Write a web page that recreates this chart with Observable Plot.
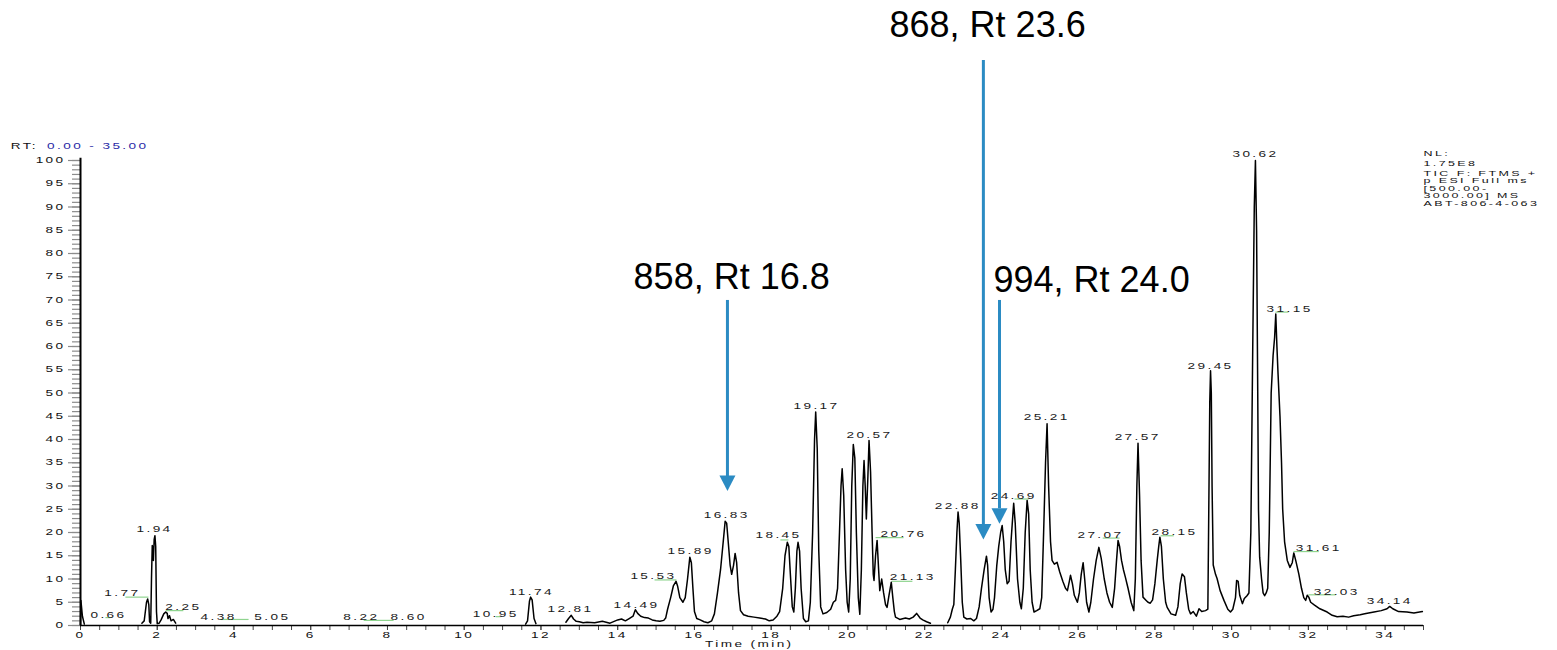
<!DOCTYPE html>
<html>
<head>
<meta charset="utf-8">
<script src="https://cdn.jsdelivr.net/npm/d3@7"></script>
<script src="https://cdn.jsdelivr.net/npm/@observablehq/plot@0.6"></script>
<style>html,body{margin:0;padding:0;background:#fff}</style>
</head>
<body>
<div id="chart"></div>
<script>
// ---- Chromatogram trace: [retention time (min), relative abundance], NaN = gap
const chromatogram = [
  [0,0],[0.01,5.4],[0.05,2.0],[0.1,0.3],[0.5,NaN],
  [1.6,0.5],[1.66,1.0],[1.72,5.0],[1.75,5.7],[1.78,4.5],[1.8,0.8],[1.83,0.5],[1.85,10],[1.87,17.2],[1.89,16.5],[1.9,14],[1.92,18.5],[1.94,19.3],[1.96,17],[1.98,3],[2.0,0.4],[2.05,0.5],[2.1,1.2],[2.17,2.5],[2.22,2.9],[2.26,2.6],[2.28,1.5],[2.32,2.1],[2.36,1.0],[2.42,1.3],[2.48,0.5],[5,NaN],
  [11.6,0.3],[11.65,1.0],[11.7,5.2],[11.73,6.1],[11.77,5.5],[11.82,1.5],[11.87,0.4],[12.2,NaN],
  [12.65,0.7],[12.72,1.5],[12.79,2.2],[12.85,1.4],[12.92,0.9],[13.0,0.8],[13.1,0.6],[13.2,0.7],[13.4,0.6],[13.6,0.9],[13.8,0.5],[14.0,1.2],[14.1,1.4],[14.2,1.0],[14.3,1.5],[14.4,2.0],[14.46,3.4],[14.52,2.6],[14.6,2.0],[14.7,1.7],[14.8,1.6],[14.9,1.2],[15.0,1.0],[15.1,0.9],[15.2,1.1],[15.25,1.6],[15.3,3.5],[15.38,6],[15.45,8.5],[15.52,9.5],[15.56,8.5],[15.62,6],[15.7,5.0],[15.76,6],[15.82,10],[15.88,14.7],[15.92,13.5],[15.96,8],[16.0,3],[16.06,1.5],[16.15,1.2],[16.25,0.8],[16.35,0.6],[16.45,1.0],[16.52,2.5],[16.6,7],[16.68,12],[16.75,18],[16.8,22.4],[16.84,22.0],[16.88,18],[16.93,13],[16.97,11],[17.02,13],[17.06,15.5],[17.1,13.5],[17.15,7],[17.2,3.2],[17.28,2.3],[17.4,2.0],[17.55,1.8],[17.7,1.6],[17.85,1.4],[17.95,1.0],[18.05,1.2],[18.15,2.0],[18.22,3],[18.3,8],[18.36,15],[18.42,17.9],[18.46,17],[18.5,11],[18.55,4],[18.59,2.9],[18.63,8],[18.67,16],[18.7,17.9],[18.74,16],[18.78,8],[18.84,1.5],[18.9,0.8],[18.97,1.0],[19.02,5],[19.08,20],[19.13,40],[19.16,45.9],[19.2,38],[19.24,16],[19.29,4],[19.35,2.5],[19.45,2.8],[19.55,3.5],[19.62,5],[19.68,5.4],[19.73,8],[19.78,20],[19.82,30],[19.85,33.7],[19.89,28],[19.94,12],[19.98,5],[20.02,2.9],[20.06,10],[20.1,30],[20.14,38.9],[20.18,36],[20.22,20],[20.27,6],[20.31,2.4],[20.35,12],[20.39,30],[20.42,35.5],[20.45,30],[20.48,22.9],[20.52,32],[20.55,39.8],[20.59,33],[20.63,20],[20.66,11],[20.68,9.7],[20.72,15],[20.76,18.3],[20.8,12],[20.83,7.5],[20.88,10],[20.93,7],[20.98,4.5],[21.02,3.9],[21.07,6.5],[21.13,9.3],[21.17,6],[21.21,3],[21.24,1.8],[21.35,1.3],[21.5,1.6],[21.6,1.4],[21.7,1.8],[21.79,2.6],[21.88,1.6],[21.95,1.2],[22.05,0.8],[22.15,0.5],[22.4,NaN],
  [22.6,0.6],[22.67,1.8],[22.72,3.5],[22.76,4.5],[22.8,12],[22.84,20],[22.87,24.4],[22.9,22],[22.94,14],[22.98,5],[23.02,1.8],[23.1,1.4],[23.2,1.5],[23.28,1.0],[23.35,1.5],[23.42,4],[23.48,8],[23.55,12],[23.61,14.9],[23.64,13],[23.68,6],[23.73,2.9],[23.78,3.5],[23.82,6],[23.88,13],[23.93,17],[23.98,20],[24.02,21.5],[24.06,18],[24.1,12],[24.15,9.0],[24.2,9.5],[24.25,18],[24.3,24],[24.32,26.3],[24.36,22],[24.42,10],[24.48,5],[24.52,3.6],[24.57,8],[24.62,20],[24.67,26.9],[24.71,24],[24.75,12],[24.8,5],[24.85,2.9],[24.92,3.2],[25.0,3.6],[25.05,6],[25.1,20],[25.15,35],[25.19,43.4],[25.23,30],[25.28,18],[25.32,14],[25.38,13.2],[25.45,13.6],[25.52,11.5],[25.6,9.5],[25.67,8],[25.72,7.5],[25.77,9.5],[25.8,10.8],[25.85,9],[25.9,6.5],[25.98,5.0],[26.03,7],[26.08,11],[26.13,13.5],[26.17,10],[26.22,5],[26.28,2.9],[26.33,5],[26.4,10],[26.47,14],[26.54,16.8],[26.6,14.5],[26.68,10],[26.75,7],[26.82,5],[26.89,3.9],[26.95,8],[27.0,14],[27.04,18.3],[27.08,17],[27.13,14],[27.18,12],[27.23,10.4],[27.3,8],[27.38,5],[27.45,3.2],[27.49,10],[27.53,30],[27.56,39.2],[27.6,28],[27.64,14],[27.69,6.1],[27.76,5.5],[27.82,5],[27.88,4.8],[27.94,5.5],[28.0,9],[28.06,14],[28.1,17],[28.13,19.0],[28.17,17],[28.22,10],[28.28,5],[28.32,3.9],[28.42,2.5],[28.54,2.2],[28.6,4],[28.66,9],[28.71,11.1],[28.77,10.5],[28.82,7],[28.88,3.5],[28.93,2.5],[29.0,3.0],[29.08,2.0],[29.15,3.6],[29.22,3.0],[29.32,3.2],[29.38,3.5],[29.41,30],[29.43,48],[29.45,54.8],[29.47,50],[29.49,30],[29.52,13],[29.58,11],[29.62,10.1],[29.7,7.5],[29.8,5.4],[29.9,3.5],[29.97,2.9],[30.03,3.5],[30.1,6],[30.13,9.7],[30.17,9.5],[30.21,6.5],[30.28,4.7],[30.33,5.8],[30.4,6.4],[30.45,7],[30.5,20],[30.55,60],[30.59,90],[30.62,100],[30.65,85],[30.68,50],[30.7,25],[30.73,14.7],[30.78,10],[30.82,7],[30.86,6.4],[30.9,7],[30.94,8],[30.98,20],[31.03,50],[31.08,58],[31.12,62],[31.15,67],[31.18,60],[31.21,54],[31.26,45],[31.3,35],[31.33,25],[31.38,18],[31.45,14],[31.52,12.5],[31.58,13.5],[31.62,15.6],[31.67,14],[31.75,11.1],[31.82,8],[31.88,6],[31.93,5.4],[31.97,6.5],[32.01,6.1],[32.06,5],[32.16,4.4],[32.3,3.6],[32.49,2.9],[32.62,2.2],[32.75,1.9],[32.9,2.0],[33.05,1.8],[33.18,2.1],[33.35,2.3],[33.5,2.6],[33.71,2.9],[33.9,3.2],[34.05,3.6],[34.12,4.1],[34.2,3.6],[34.35,3.0],[34.57,2.9],[34.75,2.7],[34.97,3.0]
];

// ---- Peak labels
const peakLabelText  = ["0.66","1.77","1.94","2.25","4.38","5.05","8.22","8.60","10.95","11.74","12.81","14.49","15.53","15.89","16.83","18.45","19.17","20.57","20.76","21.13","22.88","24.69","25.21","27.07","27.57","28.15","29.45","30.62","31.15","31.61","32.03","34.14"];
const peakLabelTime  = [0.73,1.09,1.93,2.68,3.60,5.00,7.32,8.55,10.82,11.75,12.77,14.49,14.93,15.90,16.84,18.19,19.18,20.56,21.45,21.69,22.86,24.32,25.18,26.58,27.55,28.51,29.45,30.62,31.51,32.27,32.74,34.12];
const peakLabelLevel = [2.15,6.9,20.6,3.9,1.8,1.8,1.7,1.7,2.4,7.2,3.4,4.3,10.6,15.9,23.7,19.4,47.1,40.9,19.7,10.3,25.6,27.8,44.7,19.5,40.4,20.1,55.8,101.4,68.1,16.7,7.2,5.2];

// ---- Green peak markers
const greenStart = [0.65,1.17,2.22,3.65,7.38,10.82,14.96,18.24,20.72,21.14,24.34,26.64,28.15,31.14,31.61,32.00];
const greenEnd   = [0.78,1.77,2.68,4.38,8.16,10.95,15.53,18.45,21.45,21.68,24.71,27.08,28.49,31.48,32.27,32.71];
const greenLevel = [1.7,6.1,3.2,1.3,1.1,1.9,9.8,18.4,18.9,9.5,27.2,18.8,19.3,67.4,15.9,6.6];

// ---- Annotations and arrows
const annotationText  = ["868, Rt 23.6","858, Rt 16.8","994, Rt 24.0"];
const annotationTime  = [23.64, 16.97, 26.35];
const annotationLevel = [129.0, 74.8, 74.2];
const arrowTime = [23.53, 16.86, 23.95];
const arrowTop  = [121.5, 69.9, 69.9];
const arrowBase = [21.7, 32.0, 25.1];
const arrowTip  = [18.5, 28.9, 21.9];

// ---- Axes
const xTickValues = d3.range(0, 35, 2);
const xMinorTicks = d3.range(0, 35.01, 0.5);
const yTickValues = d3.range(0, 101, 5);
const yMinorTicks = d3.range(0, 101, 1);

// ---- Header texts
const rtLabel = ["RT:"], rtRange = ["0.00 - 35.00"];
const rtLabelTime = [-1.82], rtRangeTime = [-0.87], rtLevel = [103.1];
const infoBlock1 = ["NL:\n1.75E8"];
const infoBlock2 = ["TIC F: FTMS +\np ESI Full ms\n[500.00-\n3000.00] MS\nABT-806-4-063"];
const infoTime = [35.0], infoLevel1 = [102.3], infoLevel2 = [97.9];
const xTitle = ["Time (min)"], xTitleTime = [17.43], xTitleLevel = [-4.1];

const trace = chromatogram.map(([t, v]) => ({t, v}));
const peaks = peakLabelText.map((label, i) => ({label, t: peakLabelTime[i], v: peakLabelLevel[i]}));
const greens = greenStart.map((t1, i) => ({t1, t2: greenEnd[i], v: greenLevel[i]}));
const annotations = annotationText.map((label, i) => ({label, t: annotationTime[i], v: annotationLevel[i]}));
const arrows = arrowTime.map((t, i) => ({t, top: arrowTop[i], base: arrowBase[i], tip: arrowTip[i]}));

const blue = "#2b8bc3";
const downHead = {draw(ctx) { ctx.moveTo(-8, -15.5); ctx.lineTo(8, -15.5); ctx.lineTo(0, 0); ctx.closePath(); }};

const svg = Plot.plot({
  width: 1557, height: 650,
  marginLeft: 80, marginRight: 134, marginTop: 160, marginBottom: 25,
  x: {domain: [0, 35]},
  y: {domain: [0, 100]},
  style: {fontFamily: '"Liberation Sans", Arial, sans-serif', fontSize: "8.5px", color: "#111", background: "#fff", overflow: "visible"},
  marks: [
    Plot.axisY({ticks: yMinorTicks, tickSize: 8, tickFormat: () => "", stroke: "#8c8c8c", strokeWidth: 1.2, label: null}),
    Plot.axisY({ticks: yTickValues, tickSize: 12, tickPadding: 3, stroke: "#8c8c8c", strokeWidth: 1.2, fill: "#111", label: null}),
    Plot.axisX({ticks: xMinorTicks, tickSize: 5, tickFormat: () => "", stroke: "#444", label: null}),
    Plot.axisX({ticks: xTickValues, tickSize: 5, tickPadding: 1, stroke: "#444", fill: "#111", label: null}),
    Plot.ruleX([0], {y1: 0, y2: 100.5, stroke: "#000", strokeWidth: 2}),
    Plot.ruleY([0], {x1: 0, x2: 35, stroke: "#000", strokeWidth: 1.5}),
    Plot.link(greens, {x1: "t1", x2: "t2", y1: "v", y2: "v", stroke: "#8fd48f", strokeWidth: 1.2}),
    Plot.line(trace, {x: "t", y: "v", stroke: "#000", strokeWidth: 1.5}),
    Plot.text(peaks, {x: "t", y: "v", text: "label", fill: "#1a1a1a"}),
    Plot.text(rtLabel, {x: () => rtLabelTime[0], y: () => rtLevel[0], text: d => d, textAnchor: "start", fill: "#111"}),
    Plot.text(rtRange, {x: () => rtRangeTime[0], y: () => rtLevel[0], text: d => d, textAnchor: "start", fill: "#2a2aa6"}),
    Plot.text(infoBlock1, {x: () => infoTime[0], y: () => infoLevel1[0], text: d => d, textAnchor: "start", lineAnchor: "top", lineHeight: 1.2, fontSize: 7.8, fill: "#111", ariaLabel: "info"}),
    Plot.text(infoBlock2, {x: () => infoTime[0], y: () => infoLevel2[0], text: d => d, textAnchor: "start", lineAnchor: "top", lineHeight: 0.97, fontSize: 7.8, fill: "#111", ariaLabel: "info"}),
    Plot.text(xTitle, {x: () => xTitleTime[0], y: () => xTitleLevel[0], text: d => d, fill: "#111"}),
    Plot.ruleX(arrows, {x: "t", y1: "base", y2: "top", stroke: blue, strokeWidth: 3}),
    Plot.dot(arrows, {x: "t", y: "tip", symbol: downHead, fill: blue, stroke: "none", r: 8}),
    Plot.text(annotations, {x: "t", y: "v", text: "label", fontSize: 36, fill: "#000", fontFamily: '"Liberation Sans", Arial, sans-serif', ariaLabel: "annotation"})
  ]
});

document.getElementById("chart").appendChild(svg);

// Xcalibur-style wide small text: stretch horizontally around each text's anchor
d3.select(svg).selectAll("text")
  .filter(function() { return parseFloat(getComputedStyle(this).fontSize) < 20; })
  .each(function() {
    const t = d3.select(this);
    const tr = t.attr("transform") || "";
    const xa = t.attr("x");
    let pre = "";
    if (xa != null && !isNaN(+xa) && +xa !== 0) { pre = `translate(${+xa},0)`; t.attr("x", null); }
    const isInfo = this.closest('[aria-label="info"]') != null;
    t.attr("transform", `${tr} ${pre} scale(1.6,1)`)
     .style("letter-spacing", isInfo ? "2px" : "1.5px");
  });
</script>
</body>
</html>
